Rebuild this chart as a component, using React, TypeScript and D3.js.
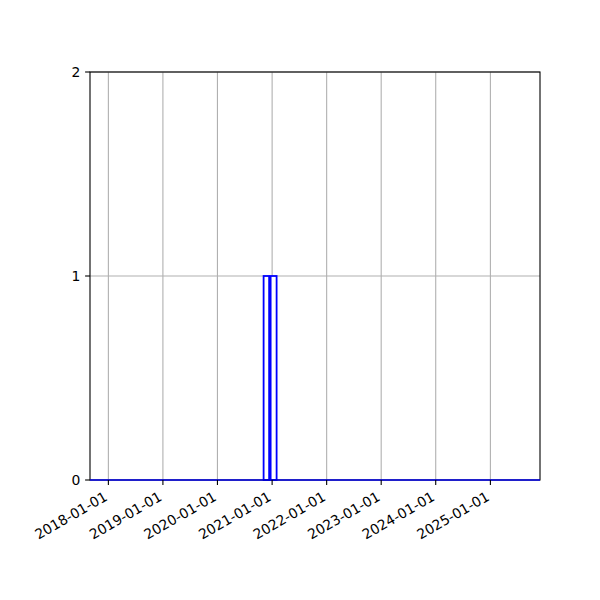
import React, { useEffect, useRef } from 'react';
import * as d3 from 'd3';

// histogram bins (start, end, count)
const binStarts = ['2017-08-31', '2020-11-05', '2020-12-22', '2021-01-31'];
const binEnds = ['2020-11-05', '2020-12-12', '2021-01-31', '2025-11-29'];
const binCounts = [0, 1, 1, 0];

const xTickDates = ['2018-01-01', '2019-01-01', '2020-01-01', '2021-01-01', '2022-01-01', '2023-01-01', '2024-01-01', '2025-01-01'];
const yTicks = [0, 1, 2];
const xDomain = ['2017-08-31', '2025-11-29'];

const parse = d3.utcParse('%Y-%m-%d');

const App: React.FC = () => {
  const svgRef = useRef<SVGSVGElement>(null);

  useEffect(() => {
    if (!svgRef.current) return;
    const svg = d3.select(svgRef.current);
    svg.selectAll('*').remove();

    const margin = { top: 72, right: 60, bottom: 120, left: 90 };
    const width = 600 - margin.left - margin.right;
    const height = 600 - margin.top - margin.bottom;
    const font = 'DejaVu Sans, sans-serif';

    const x = d3.scaleUtc()
      .domain(xDomain.map(d => parse(d) as Date))
      .range([0, width]);
    const y = d3.scaleLinear().domain([0, 2]).range([height, 0]);

    const g = svg.append('g').attr('transform', `translate(${margin.left},${margin.top})`);

    // grid
    g.selectAll('.vgrid')
      .data(xTickDates)
      .enter().append('line')
      .attr('x1', d => x(parse(d) as Date))
      .attr('x2', d => x(parse(d) as Date))
      .attr('y1', 0).attr('y2', height)
      .attr('stroke', '#b0b0b0').attr('stroke-width', 1.1);
    g.selectAll('.hgrid')
      .data(yTicks)
      .enter().append('line')
      .attr('x1', 0).attr('x2', width)
      .attr('y1', d => y(d)).attr('y2', d => y(d))
      .attr('stroke', '#b0b0b0').attr('stroke-width', 1.1);

    // bars
    const bins = binStarts.map((s, i) => ({ x0: parse(s) as Date, x1: parse(binEnds[i]) as Date, n: binCounts[i] }));
    g.selectAll('.bar')
      .data(bins)
      .enter().append('rect')
      .attr('x', d => x(d.x0))
      .attr('width', d => x(d.x1) - x(d.x0))
      .attr('y', d => y(d.n))
      .attr('height', d => y(0) - y(d.n))
      .attr('fill', 'white')
      .attr('stroke', 'blue')
      .attr('stroke-width', 1.8);

    // frame
    g.append('rect')
      .attr('x', 0).attr('y', 0)
      .attr('width', width).attr('height', height)
      .attr('fill', 'none').attr('stroke', 'black').attr('stroke-width', 1.1);
    g.append('line')
      .attr('x1', 0).attr('x2', width)
      .attr('y1', height).attr('y2', height)
      .attr('stroke', 'blue').attr('stroke-width', 1.5).attr('opacity', 0.9);

    // x axis ticks + rotated labels
    const xt = g.append('g').attr('transform', `translate(0,${height})`);
    xTickDates.forEach(d => {
      const px = x(parse(d) as Date);
      xt.append('line').attr('x1', px).attr('x2', px).attr('y1', 0).attr('y2', 4.9)
        .attr('stroke', 'black').attr('stroke-width', 1.1);
      xt.append('text')
        .attr('transform', `translate(${px},${19.5}) rotate(-30)`)
        .attr('text-anchor', 'end')
        .attr('font-family', font).attr('font-size', '13.9px')
        .attr('fill', 'black')
        .text(d);
    });

    // y axis
    yTicks.forEach(v => {
      g.append('line').attr('x1', -4.9).attr('x2', 0).attr('y1', y(v)).attr('y2', y(v))
        .attr('stroke', 'black').attr('stroke-width', 1.1);
      g.append('text')
        .attr('x', -9.7).attr('y', y(v))
        .attr('dy', '0.35em')
        .attr('text-anchor', 'end')
        .attr('font-family', font).attr('font-size', '13.9px')
        .attr('fill', 'black')
        .text(String(v));
    });
  }, []);

  return (
    <div style={{ position: 'absolute', left: 0, top: 0, width: 600, height: 600, background: 'white' }}>
      <svg ref={svgRef} width={600} height={600}></svg>
    </div>
  );
};

export default App;
